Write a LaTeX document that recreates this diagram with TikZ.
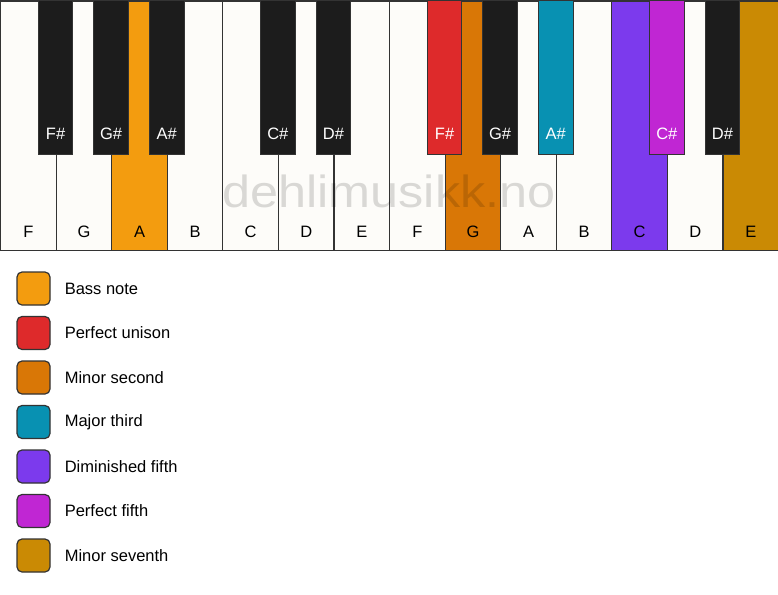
\documentclass[tikz,border=0pt]{standalone}
\usepackage{fontspec}
\setmainfont{Liberation Sans}
\usetikzlibrary{positioning}

\definecolor{ivory}{HTML}{FDFCF9}
\definecolor{ebony}{HTML}{1C1C1C}
\definecolor{edge}{HTML}{333333}
\definecolor{bass}{HTML}{F39C0F}
\definecolor{unison}{HTML}{DE2A2B}
\definecolor{minsec}{HTML}{D97706}
\definecolor{majthird}{HTML}{0891B2}
\definecolor{dimfifth}{HTML}{7C3AED}
\definecolor{perfifth}{HTML}{C026D3}
\definecolor{minsev}{HTML}{CA8A04}

\begin{document}
\begin{tikzpicture}
  [x=1pt,y=-1pt,
  wkey/.style={rectangle,draw=edge,line width=1.2pt,anchor=north west,
    minimum width=55.57pt,minimum height=249.5pt,inner sep=0pt},
  bkey/.style={rectangle,draw=edge,line width=0.8pt,anchor=north,
    minimum width=34.6pt,minimum height=153pt,inner sep=0pt},
  wlab/.style={font=\fontsize{16.5}{19}\selectfont,text=black},
  blab/.style={font=\fontsize{16.5}{19}\selectfont,text=white},
  swatch/.style={rectangle,rounded corners=5pt,draw=edge,line width=1.2pt,
    minimum width=33pt,minimum height=33pt,inner sep=0pt},
  legtext/.style={font=\fontsize{16.5}{19}\selectfont,anchor=west,inner sep=0pt}]

  \fill[white] (0,0) rectangle (778,594);
  \useasboundingbox (0,0) rectangle (778,594);

  % white keys
  \foreach \n/\c [count=\i from 0] in {F/ivory,G/ivory,A/bass,B/ivory,C/ivory,D/ivory,E/ivory,
      F/ivory,G/minsec,A/ivory,B/ivory,C/dimfifth,D/ivory,E/minsev}
  {
    \node[wkey,fill=\c] (w\i) at (\i*55.57,0.5) {};
    \node[wlab] (wl\i) at ([yshift=19.5pt]w\i.south) {\n};
  }

  % black keys
  \foreach \n/\c/\b in {F\#/ebony/1,G\#/ebony/2,A\#/ebony/3,C\#/ebony/5,D\#/ebony/6,
      F\#/unison/8,G\#/ebony/9,A\#/majthird/10,C\#/perfifth/12,D\#/ebony/13}
  {
    \node[bkey,fill=\c] (b\b) at (w\b.north west) {};
    \node[blab] (bl\b) at ([yshift=20pt]b\b.south) {\n};
  }

  \node[text=black,text opacity=0.14,font=\fontsize{45}{50}\selectfont,xscale=1.12]
    (mark) at (389,191) {dehlimusikk.no};

  % legend
  \foreach \t/\c [count=\i from 0] in {Bass note/bass,Perfect unison/unison,
      Minor second/minsec,Major third/majthird,Diminished fifth/dimfifth,
      Perfect fifth/perfifth,Minor seventh/minsev}
  {
    \node[swatch,fill=\c] (s\i) at (33.5,288.5+\i*44.5) {};
    \node[legtext] (t\i) [right=14pt of s\i] {\t};
  }
\end{tikzpicture}
\end{document}
